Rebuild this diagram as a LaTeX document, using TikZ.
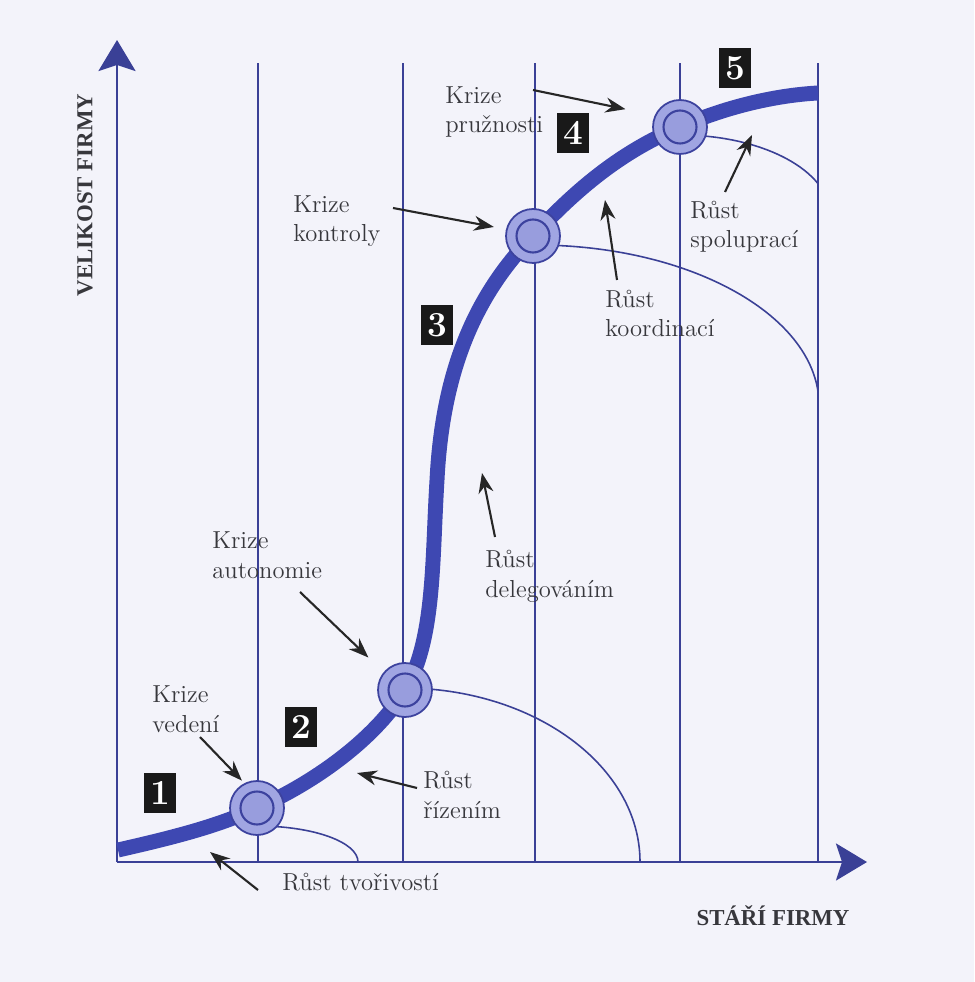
\documentclass[tikz,border=0pt]{standalone}
\usepackage{fontspec}
\newfontfamily\capsfont{Liberation Serif}
\usetikzlibrary{arrows.meta}
\definecolor{paper}{RGB}{243,243,250}
\definecolor{axisblue}{RGB}{58,64,150}
\definecolor{curveblue}{RGB}{62,72,178}
\definecolor{ringfill}{RGB}{160,165,226}
\definecolor{ringline}{RGB}{60,66,158}
\definecolor{ink}{RGB}{55,55,60}
\tikzset{
  gridline/.style={axisblue, line width=1.1pt},
  axisarrow/.style={axisblue, line width=1.5pt, -{Stealth[length=0.62cm, width=0.74cm, inset=0.12cm]}},
  lifearc/.style={axisblue, line width=0.9pt},
  crisis/.style={circle, minimum size=1.08cm, inner sep=0pt, fill=ringfill, draw=ringline, line width=1pt,
                 path picture={\draw[ringline, line width=1.2pt, fill=ringfill!92!ringline]
                               (path picture bounding box.center) circle (0.33cm);}},
  numbox/.style={fill=black!90, text=white, minimum width=0.64cm, minimum height=0.8cm, inner sep=0pt,
                 font=\fontsize{20}{20}\selectfont\bfseries},
  lbl/.style={anchor=base west, inner sep=0pt, align=left, text=ink, font=\fontsize{14}{17}\selectfont},
  axislbl/.style={text=ink, font=\capsfont\fontsize{13}{14}\selectfont\bfseries},
  pointer/.style={black!85, line width=1.2pt, -{Stealth[length=0.4cm, width=0.3cm]}}
}
\begin{document}
\begin{tikzpicture}[x=0.02cm, y=-0.02cm]
  \fill[paper] (0,0) rectangle (974,982);
  % stage boundaries
  \foreach \gx in {258, 403, 535, 680, 818}
    \draw[gridline] (\gx,862) -- (\gx,63);
  % growth arcs of each stage
  \begin{scope}
    \clip (118,0) rectangle (818,862);
    \draw[lifearc] (258,826) .. controls (313,826) and (358,842) .. (358,862);
    \draw[lifearc] (403,688) .. controls (534,688) and (640,766) .. (640,862);
    \draw[lifearc] (535,245) .. controls (692,245) and (819,317) .. (819,405);
    \draw[lifearc] (680,135) .. controls (763,135) and (830,171) .. (830,215);
  \end{scope}
  \coordinate (o) at (117,862);
  \draw[axisarrow] (o) -- (867,862);
  \draw[axisarrow] (o) -- (117,40);
  \node[axislbl, rotate=90] (ylab) at (85,195) {VELIKOST FIRMY};
  \node[axislbl] (xlab) at (773,916) {STÁŘÍ FIRMY};
  % growth curve
  \draw[curveblue, line width=8.5pt]
    (118,850) .. controls (180,836) and (220,825) .. (257,808)
    .. controls (320,780) and (378,735) .. (405,690)
    .. controls (435,640) and (432,560) .. (437,480)
    .. controls (442,380) and (470,300) .. (533,236)
    .. controls (580,185) and (625,150) .. (680,127)
    .. controls (730,105) and (780,95) .. (818,93);
  \node[crisis] (c1) at (257,808) {};
  \node[crisis] (c2) at (405,690) {};
  \node[crisis] (c3) at (533,236) {};
  \node[crisis] (c4) at (680,127) {};
  \node[numbox] (n1) at (160,793) {1};
  \node[numbox] (n2) at (301,727) {2};
  \node[numbox] (n3) at (437,325) {3};
  \node[numbox] (n4) at (573,133) {4};
  \node[numbox] (n5) at (735,68) {5};
  % crises
  \node[lbl] (kv) at (152,732) {Krize\\vedení};
  \node[lbl] (ka) at (212,578) {Krize\\autonomie};
  \node[lbl] (kk) at (293,242) {Krize\\kontroly};
  \node[lbl] (kp) at (445,133) {Krize\\pružnosti};
  \coordinate (kv-t) at (200,737);
  \coordinate (ka-t) at (300,592);
  \coordinate (kk-t) at (393,208);
  \coordinate (kp-t) at (533,90);
  \draw[pointer, shorten >=2pt] (kv-t) -- (c1.117);
  \draw[pointer, shorten >=12pt] (ka-t) -- (c2.140);
  \draw[pointer, shorten >=7pt] (kk-t) -- (c3.166);
  \draw[pointer, shorten >=17pt] (kp-t) -- (c4.155);
  % growth phases
  \node[lbl] (rt) at (282,890) {Růst tvořivostí};
  \node[lbl] (rr) at (423,818) {Růst\\řízením};
  \node[lbl] (rd) at (485,597) {Růst\\delegováním};
  \node[lbl] (rk) at (605,337) {Růst\\koordinací};
  \node[lbl] (rs) at (690,248) {Růst\\spoluprací};
  \coordinate (rt-h) at (210,852);
  \coordinate (rr-h) at (357,773);
  \coordinate (rd-h) at (482,473);
  \coordinate (rk-h) at (605,200);
  \coordinate (rs-h) at (752,135);
  \draw[pointer] (258,890) -- (rt-h);
  \draw[pointer] (417,788) -- (rr-h);
  \draw[pointer] (495,537) -- (rd-h);
  \draw[pointer] (617,280) -- (rk-h);
  \draw[pointer] (725,192) -- (rs-h);
\end{tikzpicture}
\end{document}
